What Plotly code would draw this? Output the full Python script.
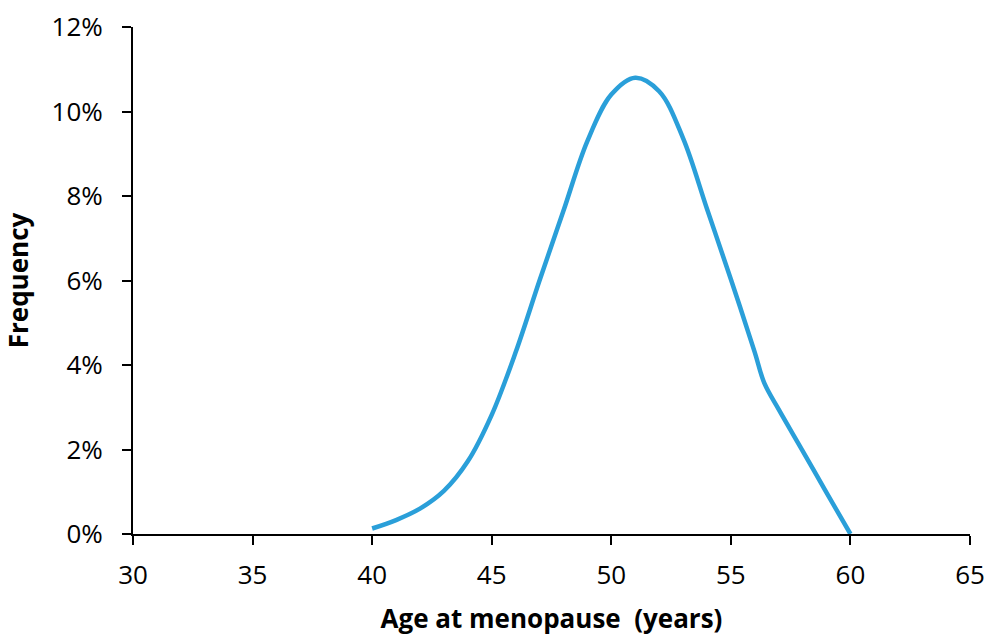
import plotly.graph_objects as go

# Age at menopause (years) and share of women at each age
ages = [40, 41, 42, 43, 44, 45, 46, 47, 48, 49, 50, 51, 52, 53, 54, 55, 56, 56.4, 57, 58, 59, 60]
frequency_pct = [0.13, 0.33, 0.6, 1.02, 1.72, 2.82, 4.3, 6.0, 7.65, 9.3, 10.4, 10.8,
                 10.48, 9.37, 7.7, 6.03, 4.3, 3.57, 2.95, 1.97, 0.98, 0.0]

x_ticks = [30, 35, 40, 45, 50, 55, 60, 65]
y_ticks = [0, 0.02, 0.04, 0.06, 0.08, 0.10, 0.12]

font_family = "Open Sans"

fig = go.Figure()
fig.add_trace(go.Scatter(
    x=ages,
    y=[v / 100 for v in frequency_pct],
    mode="lines",
    line=dict(color="#2A9FD9", width=4.5, shape="spline", smoothing=1.0),
    showlegend=False,
    hoverinfo="x+y",
))

axis_common = dict(
    showgrid=False,
    zeroline=False,
    showline=True,
    linecolor="black",
    linewidth=2,
    ticks="outside",
    ticklen=9,
    tickwidth=2,
    tickcolor="black",
    automargin=False,
    tickfont=dict(family=font_family, size=26, color="black"),
)

fig.update_layout(
    width=989,
    height=636,
    margin=dict(l=133, r=19, t=27, b=102),
    paper_bgcolor="white",
    plot_bgcolor="white",
    xaxis=dict(
        range=[30, 65],
        tickvals=x_ticks,
        ticktext=[str(t) for t in x_ticks],
        ticklabelstandoff=8,
        title=dict(text="<b>Age at menopause  (years)</b>",
                   font=dict(family=font_family, size=26, color="black"),
                   standoff=22),
        **axis_common,
    ),
    yaxis=dict(
        range=[0, 0.12],
        tickvals=y_ticks,
        tickformat=".0%",
        ticklabelstandoff=14,
        title=dict(text="<b>Frequency</b>",
                   font=dict(family=font_family, size=26, color="black"),
                   standoff=18),
        **axis_common,
    ),
)

fig.write_html("out.html")
